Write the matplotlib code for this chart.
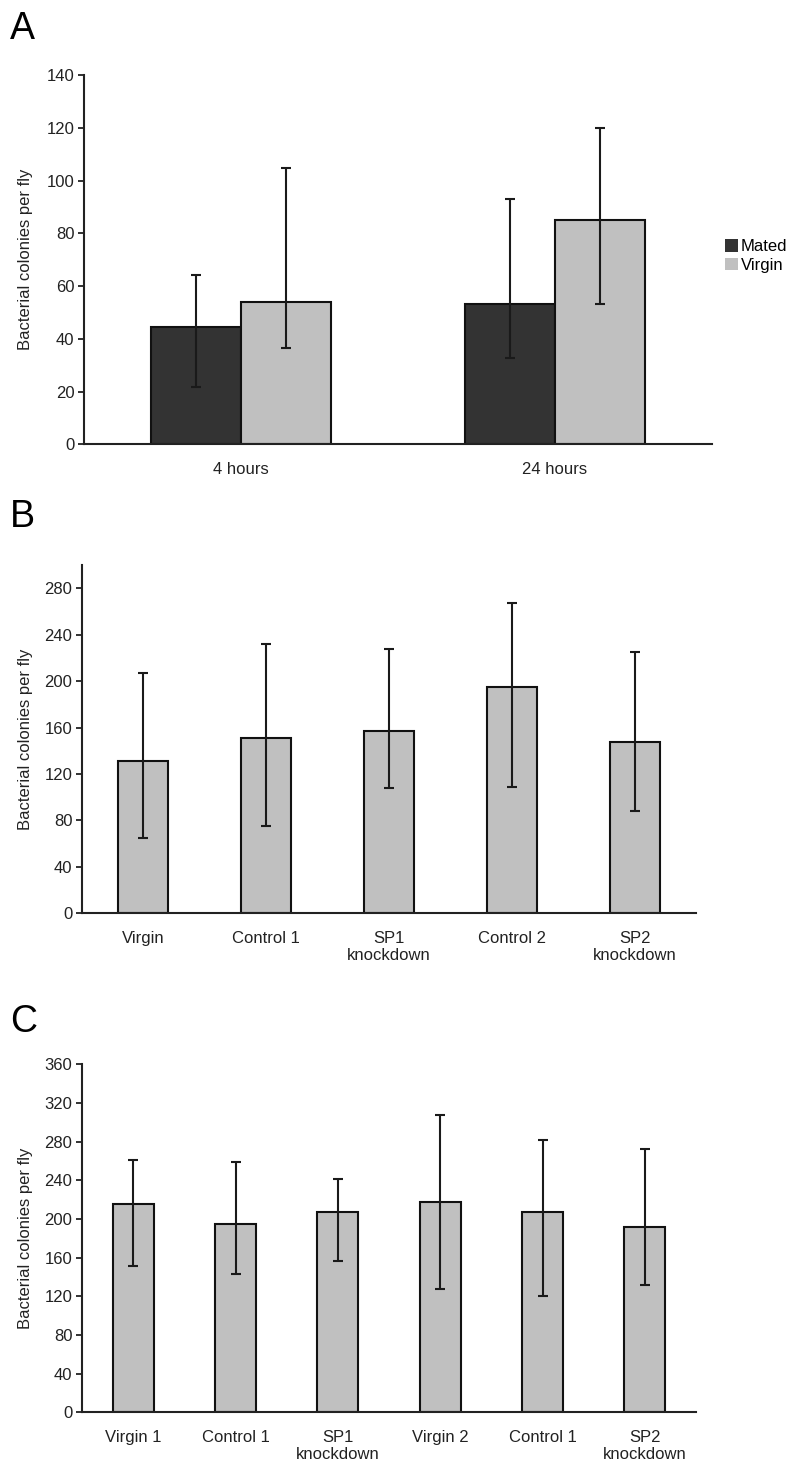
import numpy as np
import matplotlib
matplotlib.use('Agg')
import matplotlib.pyplot as plt
from matplotlib.patches import Patch

plt.rcParams['font.family'] = ['Liberation Sans', 'DejaVu Sans']

# Panel A: mated vs virgin, two time points
a_groups = ['4 hours', '24 hours']
a_mated = [44.6, 53.2]
a_mated_low = [21.9, 32.6]
a_mated_high = [64.3, 93.0]
a_virgin = [54.1, 85.0]
a_virgin_low = [36.4, 53.1]
a_virgin_high = [104.6, 119.8]

# Panel B
b_groups = ['Virgin', 'Control 1', 'SP1\nknockdown', 'Control 2', 'SP2\nknockdown']
b_mean = [131.5, 150.8, 157.4, 195.3, 147.9]
b_low = [64.6, 75.2, 107.7, 109.1, 88.2]
b_high = [206.8, 231.8, 227.7, 267.4, 224.9]

# Panel C
c_groups = ['Virgin 1', 'Control 1', 'SP1\nknockdown', 'Virgin 2', 'Control 1', 'SP2\nknockdown']
c_mean = [215.2, 194.8, 207.6, 217.6, 207.2, 191.7]
c_low = [151.4, 143.1, 156.6, 127.9, 120.3, 131.7]
c_high = [260.7, 258.6, 241.4, 307.6, 281.4, 272.8]

MATED = '#333333'
VIRGIN = '#c0c0c0'
W, H = 800, 1474


def yerr(mean, low, high):
    mean = np.array(mean)
    return [mean - np.array(low), np.array(high) - mean]


def style_axis(ax, left_px, width_px):
    for s in ['top', 'right']:
        ax.spines[s].set_visible(False)
    for s in ['left', 'bottom']:
        ax.spines[s].set_linewidth(1.5)
        ax.spines[s].set_color('#222222')
    ax.tick_params(axis='y', length=4, width=1.3, pad=3, labelsize=12, colors='#222222')
    ax.tick_params(axis='x', length=0, pad=13, labelsize=12, colors='#222222')
    ax.set_ylabel('Bacterial colonies per fly', fontsize=12, color='#222222')
    ax.yaxis.set_label_coords((33 - left_px) / width_px, 0.5)


fig = plt.figure(figsize=(W / 100, H / 100), dpi=100)

err_kw = dict(fmt='none', ecolor='#1a1a1a', elinewidth=1.5, capsize=3.5, capthick=1.5)
bar_kw = dict(edgecolor='#111111', linewidth=1.5)

# ---- A ----
l, r, t, b = 84, 712, 75, 444.3
axA = fig.add_axes([l / W, 1 - b / H, (r - l) / W, (b - t) / H])
x = np.arange(len(a_groups))
bw = 0.287
axA.bar(x - bw / 2, a_mated, bw, color=MATED, **bar_kw)
axA.bar(x + bw / 2, a_virgin, bw, color=VIRGIN, **bar_kw)
axA.errorbar(x - bw / 2, a_mated, yerr=yerr(a_mated, a_mated_low, a_mated_high), **err_kw)
axA.errorbar(x + bw / 2, a_virgin, yerr=yerr(a_virgin, a_virgin_low, a_virgin_high), **err_kw)
axA.set_xlim(-0.5, len(a_groups) - 0.5)
axA.set_ylim(0, 140)
axA.set_yticks(np.arange(0, 141, 20))
axA.set_xticks(x)
axA.set_xticklabels(a_groups)
style_axis(axA, l, r - l)
handles = [Patch(facecolor=MATED, edgecolor='none'), Patch(facecolor=VIRGIN, edgecolor='none')]
axA.legend(handles, ['Mated', 'Virgin'], loc='center left',
           bbox_to_anchor=(1 + 13 / (r - l), 0.51), frameon=False,
           fontsize=12, handlelength=0.8, handleheight=0.8, handletextpad=0.15,
           labelspacing=0.2, borderpad=0, borderaxespad=0)

# ---- B ----
l, r, t, b = 82, 696, 565, 913.3
axB = fig.add_axes([l / W, 1 - b / H, (r - l) / W, (b - t) / H])
x = np.arange(len(b_groups))
axB.bar(x, b_mean, 0.407, color=VIRGIN, **bar_kw)
axB.errorbar(x, b_mean, yerr=yerr(b_mean, b_low, b_high), **err_kw)
axB.set_xlim(-0.5, len(b_groups) - 0.5)
axB.set_ylim(0, 300)
axB.set_yticks(np.arange(0, 281, 40))
axB.set_xticks(x)
axB.set_xticklabels(b_groups, linespacing=1.1)
style_axis(axB, l, r - l)

# ---- C ----
l, r, t, b = 82, 696, 1064.3, 1412.3
axC = fig.add_axes([l / W, 1 - b / H, (r - l) / W, (b - t) / H])
x = np.arange(len(c_groups))
axC.bar(x, c_mean, 0.40, color=VIRGIN, **bar_kw)
axC.errorbar(x, c_mean, yerr=yerr(c_mean, c_low, c_high), **err_kw)
axC.set_xlim(-0.5, len(c_groups) - 0.5)
axC.set_ylim(0, 360)
axC.set_yticks(np.arange(0, 361, 40))
axC.set_xticks(x)
axC.set_xticklabels(c_groups, linespacing=1.1)
style_axis(axC, l, r - l)

# panel letters
for letter, ytop in [('A', 11), ('B', 499), ('C', 1004)]:
    fig.text(10 / W, 1 - ytop / H, letter, fontsize=27, va='top', ha='left', color='black')

fig.savefig('out.png', dpi=100)
